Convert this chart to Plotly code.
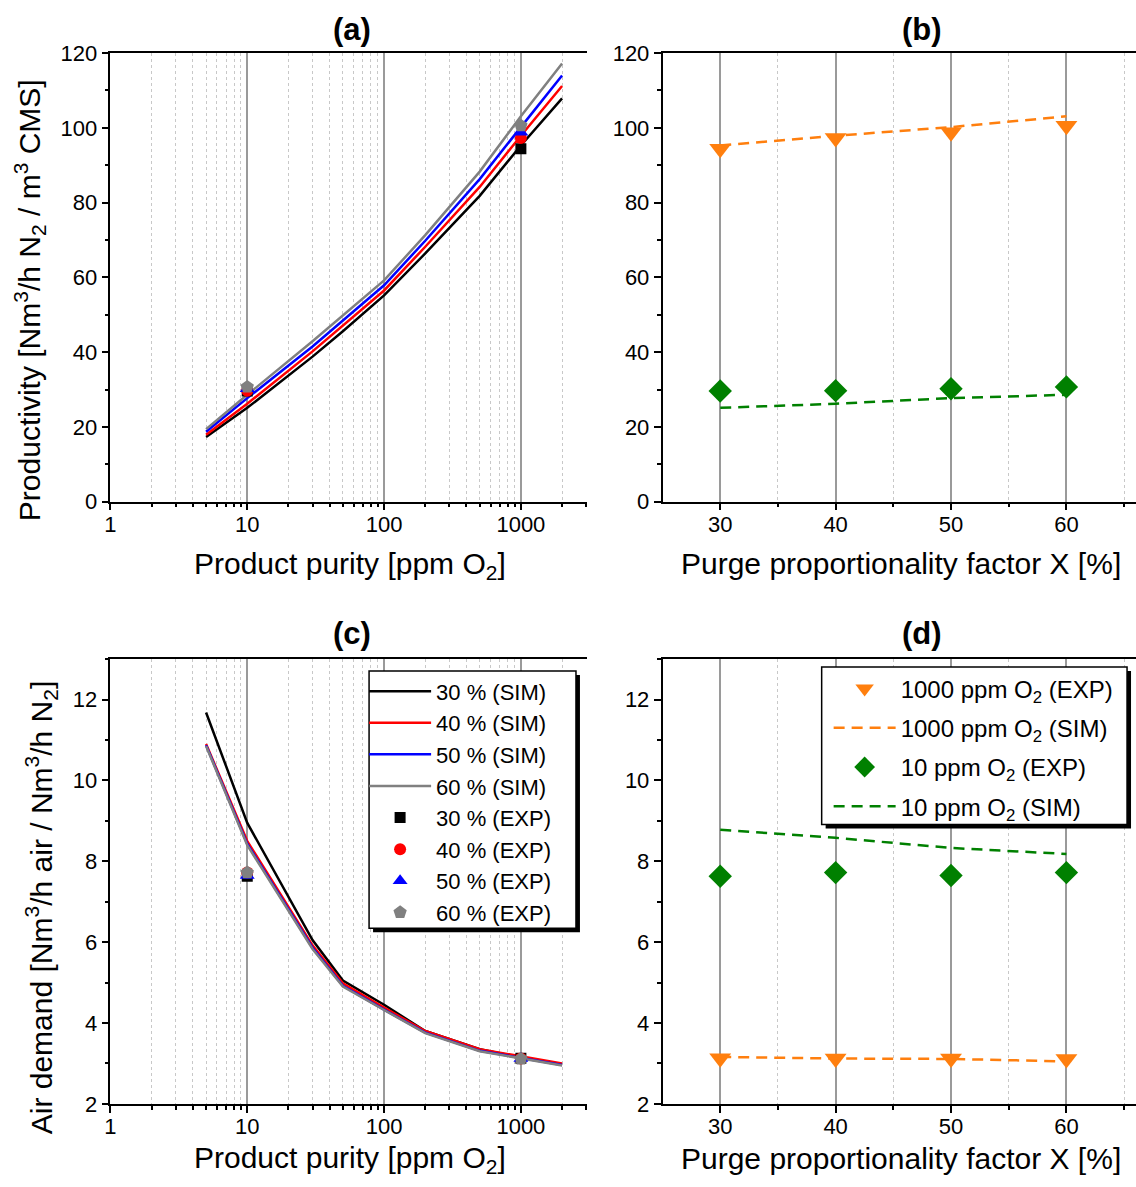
import plotly.graph_objects as go

# ---------------- data ----------------
# simulated purity grid [ppm O2]
purity_sim = [5, 10, 30, 50, 100, 200, 500, 1000, 2000]
# experimental purity points [ppm O2]
purity_exp = [10, 1000]
# purge proportionality factor X [%]
purge_x = [30, 40, 50, 60]
purge_labels = ["30 %", "40 %", "50 %", "60 %"]

# productivity, simulation [Nm3/h N2 / m3 CMS]
prod_sim_30 = [17.3, 25.1, 38.8, 45.6, 55.2, 66.4, 81.8, 95.3, 107.9]
prod_sim_40 = [17.9, 26.2, 40.2, 47.1, 56.5, 68.2, 84.2, 97.9, 111.2]
prod_sim_50 = [18.7, 27.7, 41.5, 48.5, 57.9, 69.8, 86.3, 100.2, 114.0]
prod_sim_60 = [19.4, 28.6, 42.9, 49.9, 59.2, 71.3, 88.3, 103.1, 117.2]

# productivity, experiment at 10 and 1000 ppm
prod_exp_30 = [29.6, 94.4]
prod_exp_40 = [29.7, 97.3]
prod_exp_50 = [30.2, 98.8]
prod_exp_60 = [30.7, 100.6]

# air demand, simulation [Nm3/h air / Nm3/h N2]
air_sim_30 = [11.68, 8.95, 6.05, 5.05, 4.45, 3.80, 3.35, 3.15, 2.97]
air_sim_40 = [10.90, 8.50, 5.92, 4.98, 4.38, 3.80, 3.35, 3.17, 3.00]
air_sim_50 = [10.87, 8.43, 5.86, 4.92, 4.33, 3.76, 3.31, 3.13, 2.96]
air_sim_60 = [10.85, 8.40, 5.83, 4.90, 4.32, 3.75, 3.30, 3.12, 2.95]

# air demand, experiment at 10 and 1000 ppm
air_exp_30 = [7.63, 3.13]
air_exp_40 = [7.72, 3.12]
air_exp_50 = [7.65, 3.12]
air_exp_60 = [7.72, 3.11]

# productivity vs purge factor
prod_1000_exp = [94.4, 97.3, 98.8, 100.6]
prod_1000_sim = [95.3, 97.9, 100.2, 103.1]
prod_10_exp = [29.6, 29.7, 30.2, 30.7]
prod_10_sim = [25.1, 26.2, 27.7, 28.6]

# air demand vs purge factor
air_1000_exp = [3.13, 3.12, 3.12, 3.11]
air_1000_sim = [3.16, 3.12, 3.11, 3.05]
air_10_exp = [7.63, 7.72, 7.65, 7.72]
air_10_sim = [8.78, 8.58, 8.33, 8.18]

# ---------------- styling ----------------
W, H = 1136, 1187
FONT = "Liberation Sans, Arial, sans-serif"
sim_colors = ["#000000", "#ff0000", "#0000ff", "#808080"]
exp_symbols = ["square", "circle", "triangle-up", "pentagon"]
exp_sizes = [11, 12, 13, 14]
ORANGE = "#ff7f0e"
GREEN = "#008000"
DASH = "11px,7px"


def px(x):
    return x / W


def py(y):
    return 1 - y / H


fig = go.Figure()

prod_sim = [prod_sim_30, prod_sim_40, prod_sim_50, prod_sim_60]
prod_exp = [prod_exp_30, prod_exp_40, prod_exp_50, prod_exp_60]
air_sim = [air_sim_30, air_sim_40, air_sim_50, air_sim_60]
air_exp = [air_exp_30, air_exp_40, air_exp_50, air_exp_60]

# (a) productivity vs purity
for lab, ys, c in zip(purge_labels, prod_sim, sim_colors):
    fig.add_trace(go.Scatter(x=purity_sim, y=ys, mode="lines", line=dict(color=c, width=2.5),
                             xaxis="x", yaxis="y", showlegend=False, name=lab + " (SIM)"))
for lab, ys, c, s, sz in zip(purge_labels, prod_exp, sim_colors, exp_symbols, exp_sizes):
    fig.add_trace(go.Scatter(x=purity_exp, y=ys, mode="markers",
                             marker=dict(color=c, symbol=s, size=sz, line=dict(width=0)),
                             xaxis="x", yaxis="y", showlegend=False, name=lab + " (EXP)"))

# (c) air demand vs purity
for lab, ys, c in zip(purge_labels, air_sim, sim_colors):
    fig.add_trace(go.Scatter(x=purity_sim, y=ys, mode="lines", line=dict(color=c, width=2.5),
                             xaxis="x3", yaxis="y3", legend="legend", name=lab + " (SIM)"))
for lab, ys, c, s, sz in zip(purge_labels, air_exp, sim_colors, exp_symbols, exp_sizes):
    fig.add_trace(go.Scatter(x=purity_exp, y=ys, mode="markers",
                             marker=dict(color=c, symbol=s, size=sz, line=dict(width=0)),
                             xaxis="x3", yaxis="y3", legend="legend", name=lab + " (EXP)"))

# (b) productivity vs purge factor
fig.add_trace(go.Scatter(x=purge_x, y=prod_1000_sim, mode="lines",
                         line=dict(color=ORANGE, width=2.5, dash=DASH),
                         xaxis="x2", yaxis="y2", showlegend=False))
fig.add_trace(go.Scatter(x=purge_x, y=prod_10_sim, mode="lines",
                         line=dict(color=GREEN, width=2.5, dash=DASH),
                         xaxis="x2", yaxis="y2", showlegend=False))
fig.add_trace(go.Scatter(x=purge_x, y=prod_1000_exp, mode="markers",
                         marker=dict(color=ORANGE, symbol="triangle-down", size=19),
                         xaxis="x2", yaxis="y2", showlegend=False))
fig.add_trace(go.Scatter(x=purge_x, y=prod_10_exp, mode="markers",
                         marker=dict(color=GREEN, symbol="diamond", size=18),
                         xaxis="x2", yaxis="y2", showlegend=False))

# (d) air demand vs purge factor
d_series = [
    ("1000 ppm O<sub>2</sub> (EXP)", air_1000_exp, "markers", ORANGE, "triangle-down", 19),
    ("1000 ppm O<sub>2</sub> (SIM)", air_1000_sim, "lines", ORANGE, None, 0),
    ("10 ppm O<sub>2</sub> (EXP)", air_10_exp, "markers", GREEN, "diamond", 18),
    ("10 ppm O<sub>2</sub> (SIM)", air_10_sim, "lines", GREEN, None, 0),
]
for i, (name, ys, mode, c, sym, sz) in enumerate(d_series):
    if mode == "markers":
        kw = dict(marker=dict(color=c, symbol=sym, size=sz))
    else:
        kw = dict(line=dict(color=c, width=2.5, dash=DASH))
    fig.add_trace(go.Scatter(x=purge_x, y=ys, mode=mode, xaxis="x4", yaxis="y4",
                             legend="legend2", legendgroup="d%d" % i, name=name, **kw))

# ---------------- axes ----------------
tick_font = dict(family=FONT, size=22, color="#000")
log_minor = [m * d for d in (1, 10, 100) for m in range(2, 10)] + [2000, 3000]

left_dom = [px(105), px(584)]
right_dom = [px(660), 1.0]
top_dom = [py(500.2), py(42.0)]
bot_dom = [py(1115.3), py(661.1)]

common_axis = dict(showline=True, linecolor="#000", linewidth=1.5, mirror=True,
                   ticks="outside", tickcolor="#000", tickwidth=1.5, ticklen=7,
                   tickfont=tick_font, zeroline=False)

log_x = dict(type="log", range=[0, 3.4826], tickvals=[1, 10, 100, 1000],
             ticktext=["1", "10", "100", "1000"], showgrid=True, gridcolor="#9a9a9a", gridwidth=1.5,
             ticklabelstandoff=-5,
             minor=dict(tickvals=log_minor, ticks="outside", ticklen=4, tickcolor="#000",
                        showgrid=True, gridcolor="#c8c8c8", griddash="dot", gridwidth=1),
             **common_axis)
lin_x = dict(range=[25, 66.03], tickvals=[30, 40, 50, 60], showgrid=True, gridcolor="#9a9a9a", gridwidth=1.5,
             ticklabelstandoff=-5,
             minor=dict(tickvals=[35, 45, 55, 65], ticks="outside", ticklen=4, tickcolor="#000",
                        showgrid=True, gridcolor="#c8c8c8", griddash="dot", gridwidth=1),
             **common_axis)

y_prod = dict(range=[0, 120], tickvals=list(range(0, 121, 20)), showgrid=False,
              minor=dict(tickvals=list(range(10, 120, 20)), ticks="outside", ticklen=4, tickcolor="#000"),
              **common_axis)
y_air = dict(range=[2, 13], tickvals=list(range(2, 13, 2)), showgrid=False,
             minor=dict(tickvals=list(range(3, 14, 2)), ticks="outside", ticklen=4, tickcolor="#000"),
             **common_axis)

fig.update_layout(
    xaxis=dict(domain=left_dom, anchor="y", **log_x),
    yaxis=dict(domain=top_dom, anchor="x", **y_prod),
    xaxis2=dict(domain=right_dom, anchor="y2", **lin_x),
    yaxis2=dict(domain=top_dom, anchor="x2", **y_prod),
    xaxis3=dict(domain=left_dom, anchor="y3", **log_x),
    yaxis3=dict(domain=bot_dom, anchor="x3", **y_air),
    xaxis4=dict(domain=right_dom, anchor="y4", **lin_x),
    yaxis4=dict(domain=bot_dom, anchor="x4", **y_air),
)
# only the top frame line is drawn; no right-hand spine
for ax in ("yaxis", "yaxis2", "yaxis3", "yaxis4"):
    fig.layout[ax].mirror = False

# ---------------- legends ----------------
# framed boxes with a drop shadow; the legend entries sit inside them
for (x0, x1, y0, y1) in [(365, 573, 673.3, 936.0), (820, 1127, 669.2, 830.1)]:
    fig.add_shape(type="rect", xref="paper", yref="paper",
                  x0=px(x0 + 4), x1=px(x1 + 4), y0=py(y1 + 4), y1=py(y0 + 4),
                  fillcolor="#000", line=dict(width=0), layer="above")
    fig.add_shape(type="rect", xref="paper", yref="paper",
                  x0=px(x0), x1=px(x1), y0=py(y1), y1=py(y0),
                  fillcolor="#fff", line=dict(color="#000", width=1.5), layer="above")

fig.update_layout(
    legend=dict(x=px(360), y=py(672.5), xanchor="left", yanchor="top",
                bgcolor="rgba(0,0,0,0)", borderwidth=0,
                font=dict(family=FONT, size=22, color="#000"), itemwidth=62, tracegroupgap=0),
    legend2=dict(x=px(827), y=py(668.6), xanchor="left", yanchor="top",
                 bgcolor="rgba(0,0,0,0)", borderwidth=0,
                 font=dict(family=FONT, size=24, color="#000"), itemwidth=62, tracegroupgap=5),
)

# ---------------- titles ----------------
title_font = dict(family=FONT, size=30, color="#000")
ann = []
for txt, x, y in [("(a)", 348, 17.5), ("(b)", 921, 17.5), ("(c)", 348, 634.6), ("(d)", 921, 634.6)]:
    ann.append(dict(text="<b>%s</b>" % txt, x=px(x), y=py(y), xref="paper", yref="paper",
                    showarrow=False, xanchor="center", yanchor="middle",
                    font=dict(family=FONT, size=31, color="#000")))
for txt, x, y in [("Product purity [ppm O<sub>2</sub>]", 346, 565.4),
                  ("Purge proportionality factor X [%]", 900, 563.3),
                  ("Product purity [ppm O<sub>2</sub>]", 346, 1172),
                  ("Purge proportionality factor X [%]", 900, 1171)]:
    ann.append(dict(text=txt, x=px(x), y=py(y), xref="paper", yref="paper", showarrow=False,
                    xanchor="center", yanchor="middle", font=title_font))
ann.append(dict(text="Productivity [Nm<sup>3</sup>/h N<sub>2</sub> / m<sup>3</sup> CMS]",
                x=px(24), y=py(294.5), xref="paper", yref="paper", showarrow=False, textangle=-90,
                xanchor="center", yanchor="middle", font=title_font))
ann.append(dict(text="Air demand [Nm<sup>3</sup>/h air / Nm<sup>3</sup>/h N<sub>2</sub>]",
                x=px(36), y=py(914.7), xref="paper", yref="paper", showarrow=False, textangle=-90,
                xanchor="center", yanchor="middle", font=title_font))

fig.update_layout(
    width=W, height=H, margin=dict(l=0, r=0, t=0, b=0),
    paper_bgcolor="#fff", plot_bgcolor="#fff",
    font=dict(family=FONT, color="#000"),
    annotations=ann,
)

fig.write_html("out.html")
